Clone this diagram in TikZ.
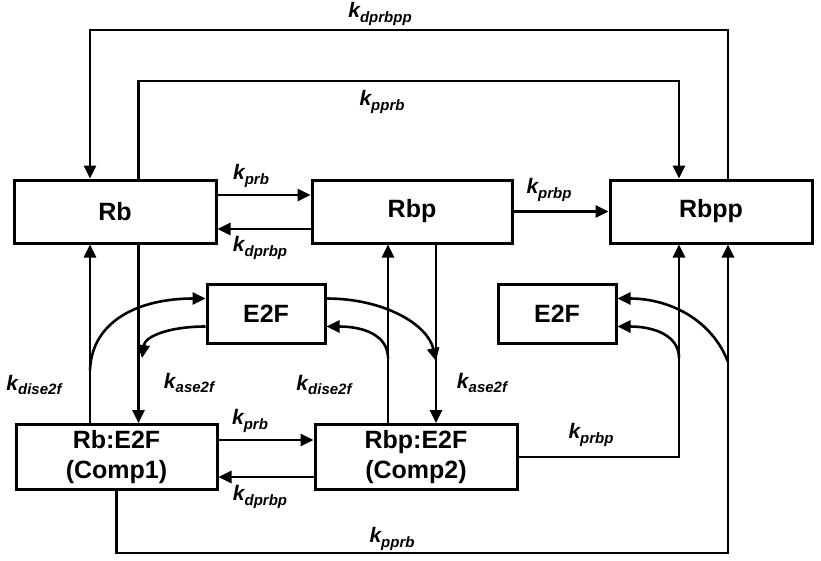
\documentclass[tikz,border=0pt]{standalone}
\usepackage{fontspec}
\setmainfont{Liberation Sans}
\usepackage{tikz}
\usetikzlibrary{arrows.meta, calc, positioning}
\newcommand{\rate}[1]{{\fontsize{21}{21}\selectfont\bfseries\itshape k\raisebox{-4.5pt}{\fontsize{15}{15}\selectfont #1}}}
\tikzset{
	species/.style={draw, line width=3pt, inner sep=0pt, minimum height=63pt, font=\fontsize{25}{30}\selectfont\bfseries, align=center},
	conn/.style={line width=2.6pt, -{Triangle[length=13pt,width=12pt]}},
}

\begin{document}
\begin{tikzpicture}[x=1pt, y=-1pt]
			\useasboundingbox (0,0) rectangle (821,560);
			% lanes
			\coordinate (lA) at (90,0);
			\coordinate (lB) at (138.5,0);
			\coordinate (lC) at (388,0);
			\coordinate (lD) at (436,0);
			\coordinate (lE) at (679,0);
			\coordinate (lF) at (728,0);
			\coordinate (top1) at (0,30);
			\coordinate (top2) at (0,81);
			\coordinate (bot) at (0,553);
			%species
			\node[species, minimum width=202pt] (rb) at (115,211.5) {Rb};
			\node[species, minimum width=200pt] (rbp) at (412,211.5) {Rbp};
			\node[species, minimum width=202pt] (rbpp) at (711,211.5) {Rbpp};
			\node[species, minimum width=118pt, minimum height=59pt] (e2fa) at (266,313.5) {E2F};
			\node[species, minimum width=118pt, minimum height=59pt] (e2fb) at (557,313.5) {E2F};
			\node[species, minimum width=201pt, minimum height=65pt] (rbe) at (116.5,457) {Rb:E2F\\(Comp1)};
			\node[species, minimum width=202pt, minimum height=65pt] (rbpe) at (416,457) {Rbp:E2F\\(Comp2)};
			% curve ends on the lanes
			\coordinate (dA) at (90,370);
			\coordinate (aB) at (142,358);
			\coordinate (dC) at (388,358);
			\coordinate (aD) at (436,361);
			\coordinate (dE) at (679,358);
			\coordinate (dF) at (728,362);
			
			% phosphorylation
			\draw[conn] ([yshift=16.5pt]rb.east) -- ([yshift=16.5pt]rbp.west);
			\draw[conn] ([yshift=-17.5pt]rbp.west) -- ([yshift=-17.5pt]rb.east);
			\draw[conn] (rbp.east) -- (rbpp.west);
			\draw[conn] ([yshift=17pt]rbe.east) -- ([yshift=17pt]rbpe.west);
			\draw[conn] ([yshift=-20pt]rbpe.west) -- ([yshift=-20pt]rbe.east);
			\draw[conn] (rbpe.east) -| (rbpp.south -| lE);
			\draw[conn] (rbe.south) -- (rbe.south |- bot) -| (rbpp.south -| lF);
			\draw[conn] (rbpp.north -| lF) -- (lF |- top1) -| (rb.north -| lA);
			\draw[conn] (rb.north -| lB) -- (lB |- top2) -| (rbpp.north -| lE);
			
			% E2F binding
			\draw[conn] (rbe.north -| lA) -- (rb.south -| lA);
			\draw[conn] (rb.south -| lB) -- (rbe.north -| lB);
			\draw[conn] (rbpe.north -| lC) -- (rbp.south -| lC);
			\draw[conn] (rbp.south -| lD) -- (rbpe.north -| lD);
			\draw[conn] (dA) .. controls (92,320) and (140,298.5) .. ([yshift=15pt]e2fa.west);
			\draw[conn] ([yshift=-13pt]e2fa.west) .. controls (170,326.5) and (145,336) .. (aB);
			\draw[conn] ([yshift=15pt]e2fa.east) .. controls (385,298.5) and (428,325) .. (aD);
			\draw[conn] (dC) .. controls (388,336) and (365,326.5) .. ([yshift=-13pt]e2fa.east);
			\draw[conn] (dE) .. controls (679,336) and (655,326.5) .. ([yshift=-13pt]e2fb.east);
			\draw[conn] (dF) .. controls (712,320) and (670,298.5) .. ([yshift=15pt]e2fb.east);
			
			% rates
			\node (kdprbpp) at (380,14) {\rate{dprbpp}};
			\node (kpprbtop) at (382,102) {\rate{pprb}};
			\node (kprbtop) at (251,176) {\rate{prb}};
			\node (kdprbptop) at (260,248) {\rate{dprbp}};
			\node (kprbptop) at (549,190) {\rate{prbp}};
			\node (kdiseA) at (34,385) {\rate{dise2f}};
			\node (kaseB) at (189,383) {\rate{ase2f}};
			\node (kdiseC) at (324,385) {\rate{dise2f}};
			\node (kaseD) at (482,383) {\rate{ase2f}};
			\node (kprbbot) at (250,421) {\rate{prb}};
			\node (kdprbpbot) at (260,497) {\rate{dprbp}};
			\node (kprbpbot) at (591,435) {\rate{prbp}};
			\node (kpprbbot) at (392,539) {\rate{pprb}};
\end{tikzpicture}
\end{document}
